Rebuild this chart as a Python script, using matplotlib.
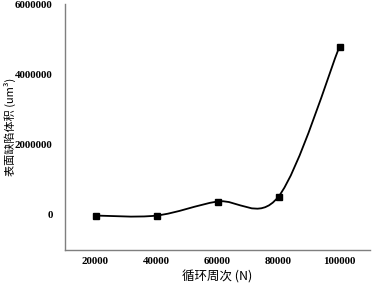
import numpy as np
import matplotlib
matplotlib.use("Agg")
import matplotlib.pyplot as plt
from matplotlib.path import Path
from matplotlib.patches import PathPatch

categories = ["20000", "40000", "60000", "80000", "100000"]
values = [-20000, -20000, 380000, 520000, 4790000]
yticks = [0, 2000000, 4000000, 6000000]
xlabel = "循环周次 (N)"
ylabel = "表面缺陷体积 (um³)"

fig = plt.figure(figsize=(3.73, 2.86), dpi=100)
ax = fig.add_axes([65/373, 36/286, 305/373, 246/286])

x = np.arange(len(categories))
y = np.array(values, dtype=float)

# Excel-like smoothed line (Catmull-Rom Bezier)
n = len(x)
verts = [(x[0], y[0])]
codes = [Path.MOVETO]
for i in range(n - 1):
    p0 = np.array([x[max(i - 1, 0)], y[max(i - 1, 0)]])
    p1 = np.array([x[i], y[i]])
    p2 = np.array([x[i + 1], y[i + 1]])
    p3 = np.array([x[min(i + 2, n - 1)], y[min(i + 2, n - 1)]])
    c1 = p1 + (p2 - p0) / 6
    c2 = p2 - (p3 - p1) / 6
    verts += [tuple(c1), tuple(c2), tuple(p2)]
    codes += [Path.CURVE4] * 3
ax.add_patch(PathPatch(Path(verts, codes), facecolor="none", edgecolor="black", lw=1.3, zorder=2))
ax.plot(x, y, linestyle="none", marker="s", markersize=4.5, color="black", zorder=3)

ax.set_xlim(-0.5, n - 0.5)
ax.set_ylim(-1000000, 6000000)
ax.set_xticks(x)
ax.set_xticklabels(categories)
ax.set_yticks(yticks)
ax.set_yticklabels([str(v) for v in yticks])

for lab in ax.get_xticklabels() + ax.get_yticklabels():
    lab.set_fontfamily("Liberation Serif")
    lab.set_fontweight("bold")
    lab.set_fontsize(7.8)

ax.tick_params(axis="both", length=0)
ax.tick_params(axis="y", pad=9)
ax.tick_params(axis="x", pad=5)

for s in ["top", "right"]:
    ax.spines[s].set_visible(False)
for s in ["left", "bottom"]:
    ax.spines[s].set_color("#7f7f7f")
    ax.spines[s].set_linewidth(1.0)

fam = ["Noto Sans CJK SC", "DejaVu Sans"]
ax.set_xlabel(xlabel, fontfamily=fam, fontsize=9, labelpad=3)
ax.set_ylabel(ylabel, fontfamily=fam, fontsize=8)
ax.yaxis.set_label_coords(-49/305, 0.5)

fig.savefig("out.png", dpi=100)
